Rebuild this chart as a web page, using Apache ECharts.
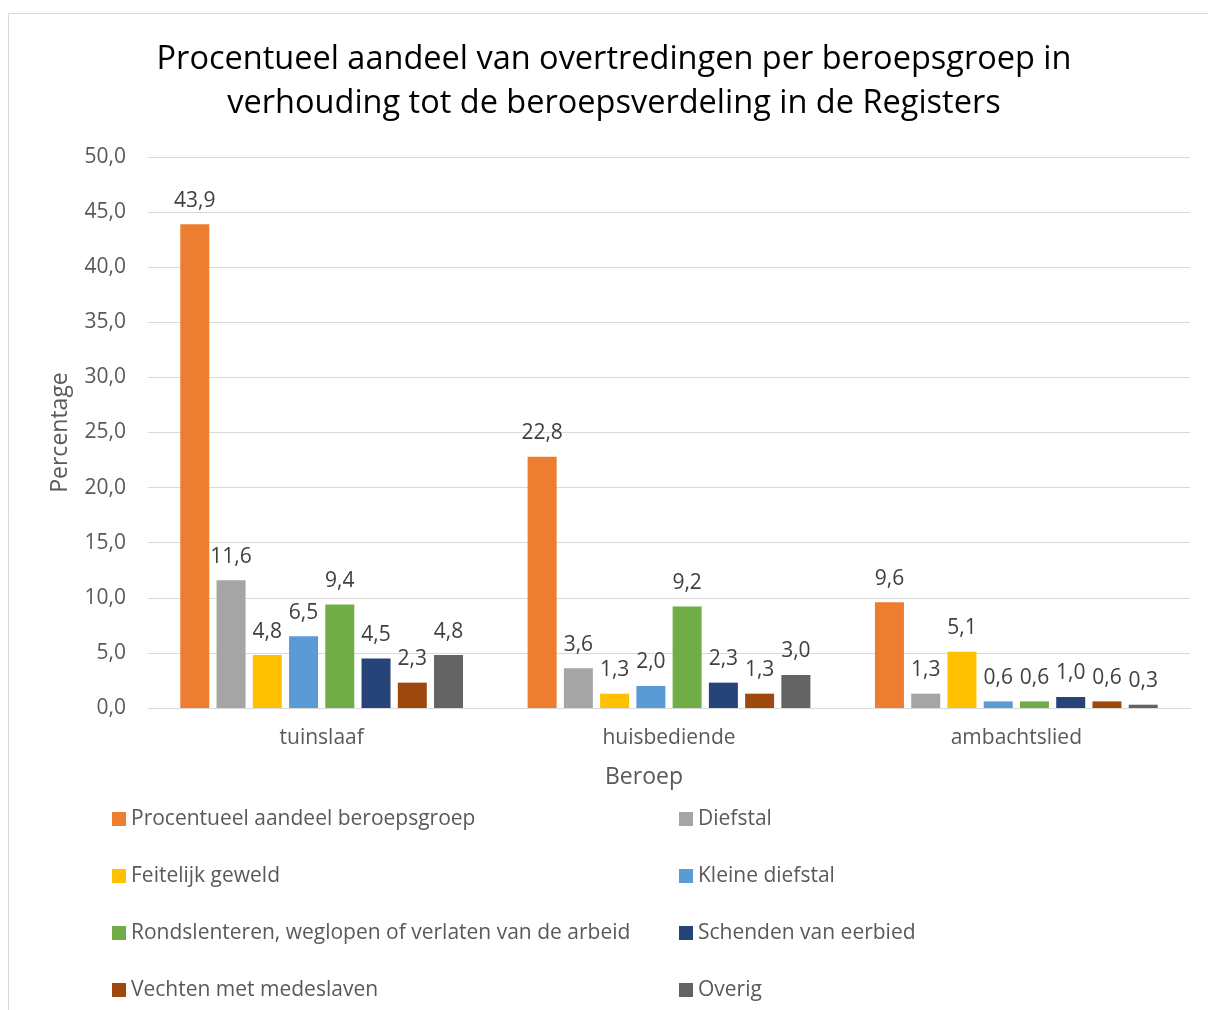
<!DOCTYPE html>
<html>
<head>
<meta charset="utf-8">
<script src="https://cdn.jsdelivr.net/npm/echarts@6/dist/echarts.min.js"></script>
<style>
  html, body { margin: 0; padding: 0; background: #fff; }
  #chart { width: 1208px; height: 1010px; }
</style>
</head>
<body>
<div id="chart"></div>
<script>
// categorieën en reeksen
var beroepen = ["tuinslaaf", "huisbediende", "ambachtslied"];
var reeksNamen = [
  "Procentueel aandeel beroepsgroep",
  "Diefstal",
  "Feitelijk geweld",
  "Kleine diefstal",
  "Rondslenteren, weglopen of verlaten van de arbeid",
  "Schenden van eerbied",
  "Vechten met medeslaven",
  "Overig"
];
var aandeel = [43.9, 22.8, 9.6];
var diefstal = [11.6, 3.6, 1.3];
var geweld = [4.8, 1.3, 5.1];
var kleineDiefstal = [6.5, 2.0, 0.6];
var rondslenteren = [9.4, 9.2, 0.6];
var eerbied = [4.5, 2.3, 1.0];
var vechten = [2.3, 1.3, 0.6];
var overig = [4.8, 3.0, 0.3];
var reeksData = [aandeel, diefstal, geweld, kleineDiefstal, rondslenteren, eerbied, vechten, overig];

var titel = "Procentueel aandeel van overtredingen per beroepsgroep in\nverhouding tot de beroepsverdeling in de Registers";
var kleuren = ["#ED7D31", "#A5A5A5", "#FFC000", "#5B9BD5", "#70AD47", "#264478", "#9E480E", "#636363"];
var font = "Open Sans";

function komma(v) {
  return Number(v).toFixed(1).replace(".", ",");
}

var series = reeksNamen.map(function (naam, i) {
  return {
    name: naam,
    type: "bar",
    data: reeksData[i],
    barWidth: 29,
    barGap: "25%",
    itemStyle: { color: kleuren[i] },
    label: {
      show: true,
      position: "top",
      distance: 13,
      color: "#404040",
      fontFamily: font,
      fontSize: 21,
      formatter: function (p) { return komma(p.value); }
    }
  };
});

var legendStyle = {
  orient: "vertical",
  icon: "rect",
  itemWidth: 14,
  itemHeight: 14,
  itemGap: 33,
  textStyle: { color: "#595959", fontFamily: font, fontSize: 21, lineHeight: 24 }
};

var option = {
  color: kleuren,
  animation: false,
  graphic: [
    {
      type: "rect",
      shape: { x: 8.5, y: 13.5, width: 1400, height: 1200 },
      style: { fill: "none", stroke: "#D9D9D9", lineWidth: 1 },
      silent: true
    },
    {
      // titel iets rechts van het midden, zoals in het origineel
      type: "text",
      x: 614,
      y: 38,
      style: {
        text: titel,
        textAlign: "center",
        fill: "#000",
        fontFamily: font,
        fontSize: 32.5,
        lineHeight: 44
      },
      silent: true
    }
  ],
  legend: [
    Object.assign({ left: 107, top: 802, data: [reeksNamen[0], reeksNamen[2], reeksNamen[4], reeksNamen[6]] }, legendStyle),
    Object.assign({ left: 674, top: 802, data: [reeksNamen[1], reeksNamen[3], reeksNamen[5], reeksNamen[7]] }, legendStyle)
  ],
  grid: { left: 148, right: 18, top: 157, bottom: 302 },
  xAxis: {
    type: "category",
    data: beroepen,
    name: "Beroep",
    nameLocation: "middle",
    nameGap: 58,
    nameTextStyle: { color: "#595959", fontFamily: font, fontSize: 23, padding: [0, 50, 0, 0] },
    axisLine: { lineStyle: { color: "#D9D9D9" } },
    axisTick: { show: false },
    axisLabel: { color: "#595959", fontFamily: font, fontSize: 21, margin: 20 }
  },
  yAxis: {
    type: "value",
    min: 0,
    max: 50,
    interval: 5,
    name: "Percentage",
    nameLocation: "middle",
    nameGap: 76,
    nameTextStyle: { color: "#595959", fontFamily: font, fontSize: 23 },
    axisLine: { show: false },
    axisTick: { show: false },
    splitLine: { lineStyle: { color: "#D9D9D9" } },
    axisLabel: { color: "#595959", fontFamily: font, fontSize: 21, margin: 22, formatter: komma }
  },
  series: series
};

var myChart = echarts.init(document.getElementById("chart"));
myChart.setOption(option);
</script>
</body>
</html>
